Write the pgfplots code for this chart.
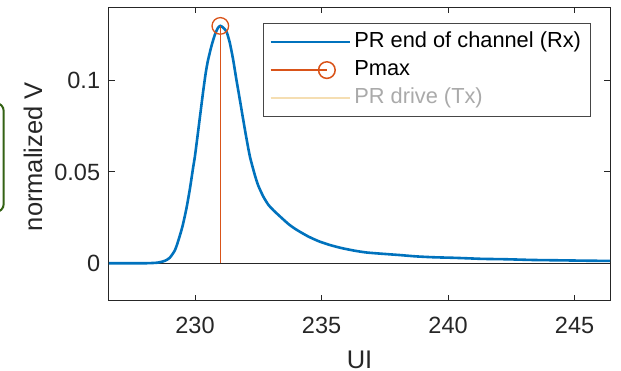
\documentclass[border=0pt]{standalone}
\usepackage{fontspec}
\setmainfont{Liberation Sans}
\usepackage{pgfplots}
\pgfplotsset{compat=1.18}

\definecolor{axgray}{RGB}{38,38,38}
\definecolor{legframe}{RGB}{70,70,70}
\definecolor{mblue}{RGB}{0,114,189}
\definecolor{morange}{RGB}{217,83,25}
\definecolor{paleyellow}{RGB}{245,222,178}
\definecolor{txgray}{RGB}{170,170,170}
\definecolor{gdark}{RGB}{52,98,20}

% pulse response at the channel output (UI, normalized V)
\pgfplotstableread{
x       y
226.6   0.0000
227.5   0.0000
228.0   0.0000
228.5   0.0003
228.8   0.0013
229.0   0.0030
229.2   0.0070
229.33  0.0120
229.5   0.0200
229.66  0.0300
229.8   0.0410
229.92  0.0520
230.0   0.0590
230.12  0.0720
230.22  0.0830
230.32  0.0940
230.42  0.1040
230.51  0.1110
230.65  0.1190
230.78  0.1250
230.9   0.1288
231.0   0.1300
231.1   0.1292
231.24  0.1270
231.37  0.1210
231.5   0.1120
231.63  0.1010
231.76  0.0905
231.9   0.0790
232.03  0.0686
232.17  0.0584
232.36  0.0485
232.5   0.0425
232.7   0.0365
232.9   0.0320
233.1   0.0290
233.41  0.0250
233.7   0.0214
233.94  0.0190
234.2   0.0168
234.5   0.0145
234.9   0.0120
235.33  0.0100
235.8   0.0083
236.3   0.0069
236.78  0.0059
237.4   0.0052
238.09  0.0045
238.7   0.0038
239.41  0.0033
240.2   0.0030
240.8   0.0027
241.38  0.0024
242.3   0.0022
243.36  0.0018
244.5   0.0016
245.5   0.0014
246.4   0.0013
}\rxpulse

\begin{document}
\begin{tikzpicture}[x=1pt,y=1pt]
% page frame; the axis box has its lower left corner at the origin
\useasboundingbox (-109,-70.3) rectangle (512,300.7);
% edge of a neighbouring panel
\draw[gdark, line width=2pt, fill=white, rounded corners=8pt] (-139,88.7) rectangle (-105.3,197.7);
\begin{axis}[
  anchor=south west,
  scale only axis, width=501pt, height=293.4pt,
  xmin=226.6, xmax=246.4, ymin=-0.0205, ymax=0.1402,
  xtick={230,235,240,245}, xticklabels={230,235,240,245},
  ytick={0,0.05,0.1}, yticklabels={0,0.05,0.1},
  tick align=inside, major tick length=6pt,
  axis line style={axgray, line width=1pt},
  every tick/.style={axgray, line width=1pt},
  ticklabel style={font=\fontsize{23.5}{28}\selectfont, text=axgray},
  xticklabel style={anchor=base, yshift=-32.6pt},
  yticklabel style={anchor=east, inner xsep=0pt, xshift=-8.7pt},
  xlabel={UI}, ylabel={normalized V},
  label style={font=\fontsize{25.5}{30}\selectfont, text=axgray},
  xlabel style={at={(axis description cs:0.5,-0.231)}, anchor=base},
  ylabel style={at={(axis description cs:-0.1337,0.4908)}, anchor=base},
  legend style={
    at={(axis description cs:0.962,0.9465)}, anchor=north east,
    draw=legframe, line width=1pt, fill=white,
    font=\fontsize{21.8}{26}\selectfont,
    inner xsep=6pt, inner ysep=4.6pt,
    cells={anchor=west},
    nodes={inner ysep=3.8pt, inner xsep=3.5pt, text height=15.8pt, text depth=4.6pt},
    row sep=0pt,
  },
  legend image code/.code={\draw[#1] (0pt,0pt) -- (79pt,0pt);},
]
% zero reference line
\addplot[axgray, line width=0.9pt, forget plot] coordinates {(226.6,0) (246.4,0)};
\addplot[mblue, line width=2.6pt, smooth, tension=0.4] table[x=x, y=y] {\rxpulse};
\addlegendentry{PR end of channel (Rx)}
\addplot[morange, line width=1.3pt, mark=o, mark indices={2}, mark size=8.3pt,
  mark options={solid, line width=1.3pt},
  legend image code/.code={
    \draw[draw=morange, line width=1.5pt] (0pt,0pt) -- (56.3pt,0pt);
    \draw[draw=morange, line width=1.5pt] (56.3pt,0pt) circle (8.3pt);}]
  coordinates {(231,0) (231,0.13)};
\addlegendentry{Pmax}
\addlegendimage{draw=paleyellow, line width=2pt}
\addlegendentry{\textcolor{txgray}{PR drive (Tx)}}
\end{axis}
\end{tikzpicture}
\end{document}
